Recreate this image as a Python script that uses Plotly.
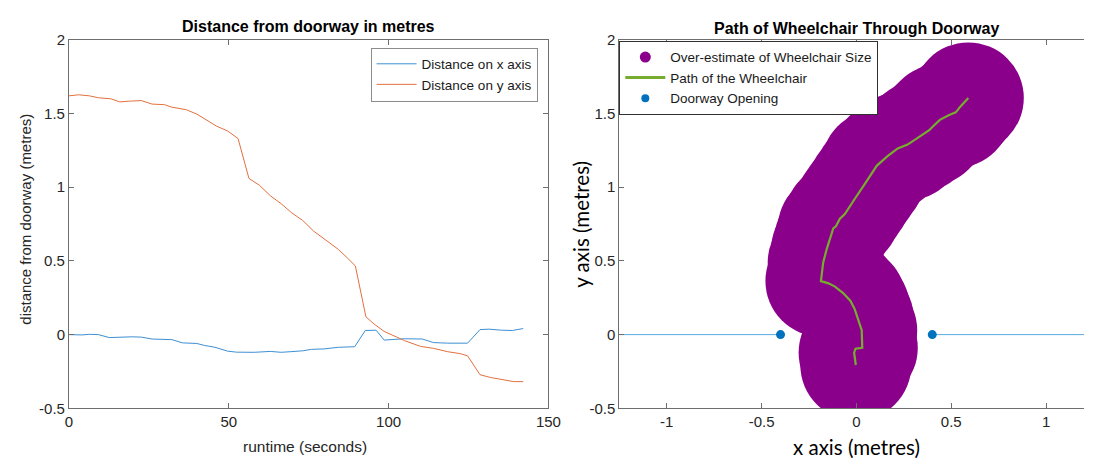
import plotly.graph_objects as go

# ---------------- data: left plot ----------------
time_x = [0, 4.1, 6.4, 9.2, 12.6, 15.4, 19.8, 22.6, 26.0, 32.2, 35.5, 40.0, 42.3, 45.7,
          49.6, 52.4, 58.0, 63.0, 66.4, 69.2, 73.1, 75.9, 79.8, 84.3, 89.4, 92.7, 96.1,
          98.6, 101.7, 105.0, 110.6, 114.0, 118.5, 124.7, 128.6, 131.4, 135.3, 138.7, 142.1]
dist_x = [0.0, -0.002, 0.002, 0.0, -0.02, -0.017, -0.015, -0.017, -0.03, -0.034, -0.056,
          -0.06, -0.073, -0.086, -0.112, -0.119, -0.12, -0.114, -0.12, -0.116, -0.11, -0.1,
          -0.097, -0.086, -0.082, 0.028, 0.03, -0.037, -0.034, -0.028, -0.03, -0.054, -0.058,
          -0.058, 0.034, 0.037, 0.03, 0.028, 0.041]

time_y = [0, 3.0, 6.4, 9.2, 13.1, 15.9, 19.0, 22.6, 26.0, 29.9, 32.2, 36.7, 40.0, 43.4,
          46.2, 49.6, 52.9, 56.3, 59.6, 63.0, 66.4, 69.7, 73.1, 76.5, 80.4, 84.3, 87.1,
          89.6, 92.9, 95.5, 98.6, 101.7, 105.0, 110.0, 114.0, 118.5, 122.4, 124.7, 128.6,
          131.9, 136.4, 139.2, 142.1]
dist_y = [1.62, 1.627, 1.62, 1.607, 1.60, 1.579, 1.584, 1.588, 1.564, 1.56, 1.543, 1.526,
          1.496, 1.449, 1.414, 1.382, 1.33, 1.06, 1.013, 0.942, 0.888, 0.826, 0.775, 0.703,
          0.638, 0.578, 0.52, 0.466, 0.121, 0.071, 0.022, -0.009, -0.041, -0.08, -0.093,
          -0.116, -0.129, -0.144, -0.272, -0.291, -0.308, -0.319, -0.319]

# ---------------- data: right plot ----------------
path_x = [-0.003, -0.012, -0.005, 0.031, 0.028, 0.010, -0.009, -0.031, -0.070, -0.113,
          -0.147, -0.187, -0.175, -0.157, -0.140, -0.122, -0.108, -0.087, -0.061, -0.031,
          -0.003, 0.035, 0.070, 0.108, 0.166, 0.218, 0.270, 0.332, 0.384, 0.410, 0.440,
          0.489, 0.524, 0.550, 0.590]
path_y = [-0.206, -0.123, -0.096, -0.090, 0.030, 0.107, 0.173, 0.228, 0.282, 0.326,
          0.348, 0.363, 0.490, 0.578, 0.643, 0.720, 0.735, 0.786, 0.818, 0.880,
          0.932, 1.004, 1.070, 1.147, 1.212, 1.263, 1.289, 1.344, 1.387, 1.420, 1.457,
          1.490, 1.508, 1.550, 1.606]

door_x = [-0.4, 0.4]
door_y = [0.0, 0.0]
wall_left_x = [-1.25, -0.4]
wall_right_x = [0.4, 1.25]
wall_y = [0.0, 0.0]

left_xticks = [0, 50, 100, 150]
left_yticks = [-0.5, 0, 0.5, 1, 1.5, 2]
right_xticks = [-1, -0.5, 0, 0.5, 1]
right_yticks = [-0.5, 0, 0.5, 1, 1.5, 2]

W, H = 1097, 464
PURPLE = "#8b008a"
GREEN = "#77ac30"
BLUE = "#0072bd"
AX = "#6e6e6e"
TXT = "#262626"
FONT = "Liberation Sans, Arial, Helvetica, sans-serif"

fig = go.Figure()

# left plot
fig.add_trace(go.Scatter(x=time_x, y=dist_x, mode="lines", name="Distance on x axis",
                         line=dict(color="#3d8fd2", width=1), xaxis="x", yaxis="y",
                         legend="legend"))
fig.add_trace(go.Scatter(x=time_y, y=dist_y, mode="lines", name="Distance on y axis",
                         line=dict(color="#e2703e", width=1), xaxis="x", yaxis="y",
                         legend="legend"))

# right plot
fig.add_trace(go.Scatter(x=path_x, y=path_y, mode="markers", showlegend=False,
                         marker=dict(color=PURPLE, size=111, line=dict(width=0)),
                         xaxis="x2", yaxis="y2", cliponaxis=True))
fig.add_trace(go.Scatter(x=path_x, y=path_y, mode="lines", showlegend=False,
                         line=dict(color=GREEN, width=2.2), xaxis="x2", yaxis="y2"))
fig.add_trace(go.Scatter(x=wall_left_x, y=wall_y, mode="lines", showlegend=False,
                         line=dict(color="#5aa9e0", width=1), xaxis="x2", yaxis="y2"))
fig.add_trace(go.Scatter(x=wall_right_x, y=wall_y, mode="lines", showlegend=False,
                         line=dict(color="#5aa9e0", width=1), xaxis="x2", yaxis="y2"))
fig.add_trace(go.Scatter(x=door_x, y=door_y, mode="markers", showlegend=False,
                         marker=dict(color=BLUE, size=9), xaxis="x2", yaxis="y2"))

# legend entries for right plot
fig.add_trace(go.Scatter(x=[None], y=[None], mode="markers",
                         name="Over-estimate of Wheelchair Size",
                         marker=dict(color=PURPLE, size=11), xaxis="x2", yaxis="y2",
                         legend="legend2"))
fig.add_trace(go.Scatter(x=[None], y=[None], mode="lines", name="Path of the Wheelchair",
                         line=dict(color=GREEN, width=3), xaxis="x2", yaxis="y2",
                         legend="legend2"))
fig.add_trace(go.Scatter(x=[None], y=[None], mode="markers", name="Doorway Opening",
                         marker=dict(color=BLUE, size=8), xaxis="x2", yaxis="y2",
                         legend="legend2"))

top_px, bot_px = 32, 414.5
ydom = [1 - bot_px / H, 1 - top_px / H]

axis_common = dict(showgrid=False, zeroline=False, showline=True, linecolor=AX,
                   linewidth=1, ticks="inside", ticklen=5, tickcolor=AX, tickwidth=1,
                   tickfont=dict(family=FONT, size=15, color=TXT))

fig.update_layout(
    width=W, height=H,
    margin=dict(l=0, r=0, t=0, b=0),
    paper_bgcolor="white", plot_bgcolor="white",
    xaxis=dict(domain=[66 / W, 553 / W], range=[0, 150], tickvals=left_xticks,
               mirror="ticks", anchor="y", **axis_common),
    yaxis=dict(domain=ydom, range=[-0.5, 2], tickvals=left_yticks,
               ticktext=[str(v) for v in left_yticks],
               mirror="ticks", anchor="x", **axis_common),
    xaxis2=dict(domain=[625 / W, 1.0], range=[-1.25, 1.2], tickvals=right_xticks,
                ticktext=[str(v) for v in right_xticks],
                mirror="ticks", anchor="y2", **axis_common),
    yaxis2=dict(domain=ydom, range=[-0.5, 2], tickvals=right_yticks,
                ticktext=[str(v) for v in right_yticks],
                mirror=False, anchor="x2", **axis_common),
    legend=dict(x=542 / W, xanchor="right", y=1 - 40 / H, yanchor="top",
                bgcolor="white", bordercolor="#8c8c8c", borderwidth=1,
                font=dict(family=FONT, size=13.5, color="#1a1a1a"), itemwidth=40,
                tracegroupgap=0),
    legend2=dict(x=625 / W, xanchor="left", y=1 - 33 / H, yanchor="top",
                 bgcolor="white", bordercolor="#303030", borderwidth=1,
                 font=dict(family=FONT, size=13.5, color="#1a1a1a"), itemwidth=40,
                 tracegroupgap=0),
    showlegend=True,
)

annos = [
    dict(text="<b>Distance from doorway in metres</b>", x=309.5 / W, y=1 - 18.5 / H,
         xref="paper", yref="paper", showarrow=False, xanchor="center", yanchor="middle",
         font=dict(family=FONT, size=16, color="#000000")),
    dict(text="<b>Path of Wheelchair Through Doorway</b>", x=866 / W, y=1 - 20.5 / H,
         xref="paper", yref="paper", showarrow=False, xanchor="center", yanchor="middle",
         font=dict(family=FONT, size=16, color="#000000")),
    dict(text="runtime (seconds)", x=306 / W, y=1 - 454 / H, xref="paper", yref="paper",
         showarrow=False, xanchor="center", yanchor="middle",
         font=dict(family=FONT, size=15.5, color=TXT)),
    dict(text="distance from doorway (metres)", x=21 / W, y=1 - 218 / H, xref="paper",
         yref="paper", showarrow=False, xanchor="center", yanchor="middle", textangle=-90,
         font=dict(family=FONT, size=15, color=TXT)),
    dict(text="x axis (metres)", x=866 / W, y=1 - 455 / H, xref="paper", yref="paper",
         showarrow=False, xanchor="center", yanchor="middle",
         font=dict(family="Lato, sans-serif", size=20.5, color="#000000")),
    dict(text="y axis (metres)", x=586 / W, y=1 - 223 / H, xref="paper", yref="paper",
         showarrow=False, xanchor="center", yanchor="middle", textangle=-90,
         font=dict(family="Lato, sans-serif", size=20.5, color="#000000")),
]
fig.update_layout(annotations=annos)

fig.write_html("out.html",
               config={"displayModeBar": False},
               post_script="document.body.style.margin='0';"
                           "document.body.style.overflow='hidden';")
